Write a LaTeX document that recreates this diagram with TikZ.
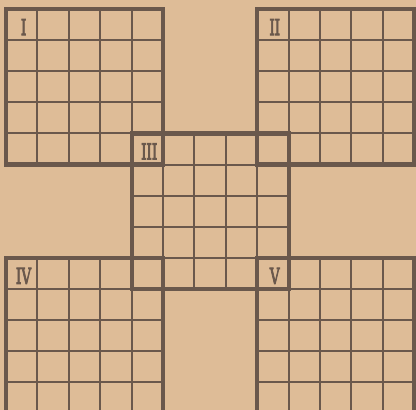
\documentclass[tikz,border=0pt]{standalone}
\usepackage{graphicx}
\usepackage{fontspec}
\newfontfamily\numfont[FakeBold=4.5]{DejaVu Serif}
\definecolor{paper}{HTML}{DEBC97}
\definecolor{ink}{HTML}{6A584C}

\begin{document}
\begin{tikzpicture}[x=31.4pt, y=-31.1pt,
        ruling/.style={draw=ink, line width=2pt},
        frame/.style={draw=ink, line width=4.2pt},
        numeral/.style={text=ink, font=\numfont\fontsize{22}{22}\selectfont, inner sep=0pt}
    ]
        % PAPER
        \fill[paper] (-6pt,9pt) rectangle (410pt,-401pt);
        \useasboundingbox (-6pt,9pt) rectangle (410pt,-401pt);
        \clip (-6pt,9pt) rectangle (410pt,-401pt);

        % FIVE 5x5 SQUARES
        \foreach \ox/\oy/\num in {0/0/I, 8/0/II, 4/4/III, 0/8/IV, 8/8/V}{
            \foreach \k in {1,...,4}{
                \draw[ruling] (\ox+\k,\oy) -- (\ox+\k,\oy+5);
                \draw[ruling] (\ox,\oy+\k) -- (\ox+5,\oy+\k);
            }
        }
        \foreach \ox/\oy/\num in {0/0/I, 8/0/II, 4/4/III, 0/8/IV, 8/8/V}{
            \draw[frame] (\ox,\oy) rectangle (\ox+5,\oy+5);
            \node[numeral] (lab-\num) at (\ox+0.56,\oy+0.58) {\scalebox{0.62}[1]{\num}};
        }
    \end{tikzpicture}
\end{document}
